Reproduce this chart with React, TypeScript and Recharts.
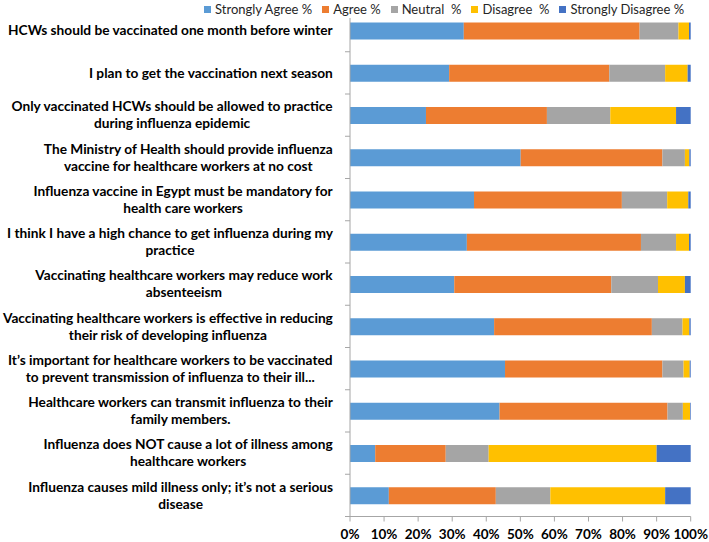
import { BarChart, Bar, XAxis, YAxis, Legend } from 'recharts';

// survey statements, top to bottom ("\n" = line break in the label)
const statements = [
  'HCWs should be vaccinated one month before winter',
  'I plan to get the vaccination next season',
  'Only vaccinated HCWs should be allowed to practice\nduring influenza epidemic',
  'The Ministry of Health should provide influenza\nvaccine for healthcare workers at no cost',
  'Influenza vaccine in Egypt must be mandatory for\nhealth care workers',
  'I think I have a high chance to get influenza during my\npractice',
  'Vaccinating healthcare workers may reduce work\nabsenteeism',
  'Vaccinating healthcare workers is effective in reducing\ntheir risk of developing influenza',
  'It\u2019s important for healthcare workers to be vaccinated\nto prevent transmission of influenza to their ill...',
  'Healthcare workers can transmit influenza to their\nfamily members.',
  'Influenza does NOT cause a lot of illness among\nhealthcare workers',
  'Influenza causes mild illness only; it\u2019s not a serious\ndisease',
];

const stronglyAgree = [33.4, 29.1, 22.3, 50.1, 36.4, 34.3, 30.6, 42.3, 45.5, 43.9, 7.4, 11.4];
const agree = [51.6, 47.0, 35.5, 41.6, 43.4, 51.1, 46.1, 46.3, 46.2, 49.3, 20.7, 31.4];
const neutral = [11.4, 16.4, 18.6, 6.6, 13.3, 10.3, 13.7, 9.0, 6.2, 4.5, 12.6, 16.0];
const disagree = [3.1, 6.6, 19.3, 1.3, 6.2, 3.8, 7.9, 2.0, 1.8, 2.1, 49.3, 33.7];
const stronglyDisagree = [0.5, 0.9, 4.3, 0.4, 0.7, 0.5, 1.7, 0.4, 0.3, 0.2, 10.0, 7.5];

const seriesNames = ['Strongly Agree %', 'Agree %', 'Neutral  %', 'Disagree  %', 'Strongly Disagree %'];
const seriesKeys = ['sa', 'a', 'n', 'd', 'sd'];
const seriesColors = ['#5B9BD5', '#ED7D31', '#A5A5A5', '#FFC000', '#4472C4'];

const xTicks = [0, 10, 20, 30, 40, 50, 60, 70, 80, 90, 100];

const data = statements.map((s, i) => ({
  statement: s,
  sa: stronglyAgree[i],
  a: agree[i],
  n: neutral[i],
  d: disagree[i],
  sd: stronglyDisagree[i],
}));

const WIDTH = 709;
const HEIGHT = 542;
const MARGIN = { top: 9.5, right: 18.3, bottom: 0, left: 0 };
const Y_AXIS_W = 350;
const X_AXIS_H = 25.5;
const HALF_BAND = (HEIGHT - MARGIN.top - X_AXIS_H) / statements.length / 2;

const FONT = 'Lato, "Open Sans", sans-serif';
const LABEL_SIZE = 13.7;
const AXIS_GRAY = '#A6A6A6';

let measureCtx: CanvasRenderingContext2D | null = null;
function textWidth(s: string) {
  if (!measureCtx) measureCtx = document.createElement('canvas').getContext('2d');
  if (!measureCtx) return s.length * 6.8;
  measureCtx.font = `bold ${LABEL_SIZE}px Lato`;
  return measureCtx.measureText(s).width;
}

function StatementTick(props: any) {
  const { x, y, payload, index } = props;
  const lines = String(payload.value).split('\n');
  const w = Math.max(...lines.map(textWidth));
  const cx = x - w / 2;
  const lineH = 17;
  const y0 = y - ((lines.length - 1) * lineH) / 2;
  return (
    <g>
      <text
        fontFamily={FONT}
        fontWeight="bold"
        fontSize={LABEL_SIZE}
        fill="#000"
        textAnchor="middle"
      >
        {lines.map((l, i) => (
          <tspan key={i} x={cx} y={y0 + i * lineH} dy="0.35em">
            {l}
          </tspan>
        ))}
      </text>
      <line x1={x + 12} x2={x + 17} y1={y + HALF_BAND} y2={y + HALF_BAND} stroke={AXIS_GRAY} />
      {index === 0 && (
        <line x1={x + 12} x2={x + 17} y1={y - HALF_BAND} y2={y - HALF_BAND} stroke={AXIS_GRAY} />
      )}
    </g>
  );
}

function PercentTick(props: any) {
  const { x, y, payload } = props;
  return (
    <text x={x} y={y} dy={15} textAnchor="middle" fontFamily={FONT} fontWeight="bold" fontSize={13.5} fill="#000">
      {payload.value}%
    </text>
  );
}

// legend keeps the series order (Recharts sorts its payload by name)
function LegendContent() {
  return (
    <div style={{ display: 'flex', alignItems: 'center', gap: 10, background: '#fff', height: 18, fontFamily: FONT, fontSize: 13, color: '#262626' }}>
      {seriesNames.map((name, i) => (
        <div key={name} style={{ display: 'flex', alignItems: 'center', gap: 4, whiteSpace: 'pre' }}>
          <span style={{ width: 7, height: 7, background: seriesColors[i], display: 'inline-block' }} />
          <span>{name}</span>
        </div>
      ))}
    </div>
  );
}

export default function App() {
  return (
    <div style={{ position: 'absolute', left: 0, top: 0, background: '#fff' }}>
      <BarChart width={WIDTH} height={HEIGHT} data={data} layout="vertical" margin={MARGIN} barSize={17}>
        <XAxis
          type="number"
          domain={[0, 100]}
          ticks={xTicks}
          interval={0}
          height={X_AXIS_H}
          tickSize={5}
          tickMargin={2}
          stroke={AXIS_GRAY}
          tick={<PercentTick />}
        />
        <YAxis
          type="category"
          dataKey="statement"
          width={Y_AXIS_W}
          interval={0}
          tickSize={0}
          tickMargin={17}
          stroke={AXIS_GRAY}
          tick={<StatementTick />}
        />
        <Legend
          layout="horizontal"
          verticalAlign="middle"
          align="center"
          content={<LegendContent />}
          wrapperStyle={{ top: 0, left: 204, width: 505, height: 18 }}
        />
        {seriesKeys.map((k, i) => (
          <Bar
            key={k}
            dataKey={k}
            name={seriesNames[i]}
            stackId="s"
            fill={seriesColors[i]}
            isAnimationActive={false}
          />
        ))}
      </BarChart>
    </div>
  );
}
